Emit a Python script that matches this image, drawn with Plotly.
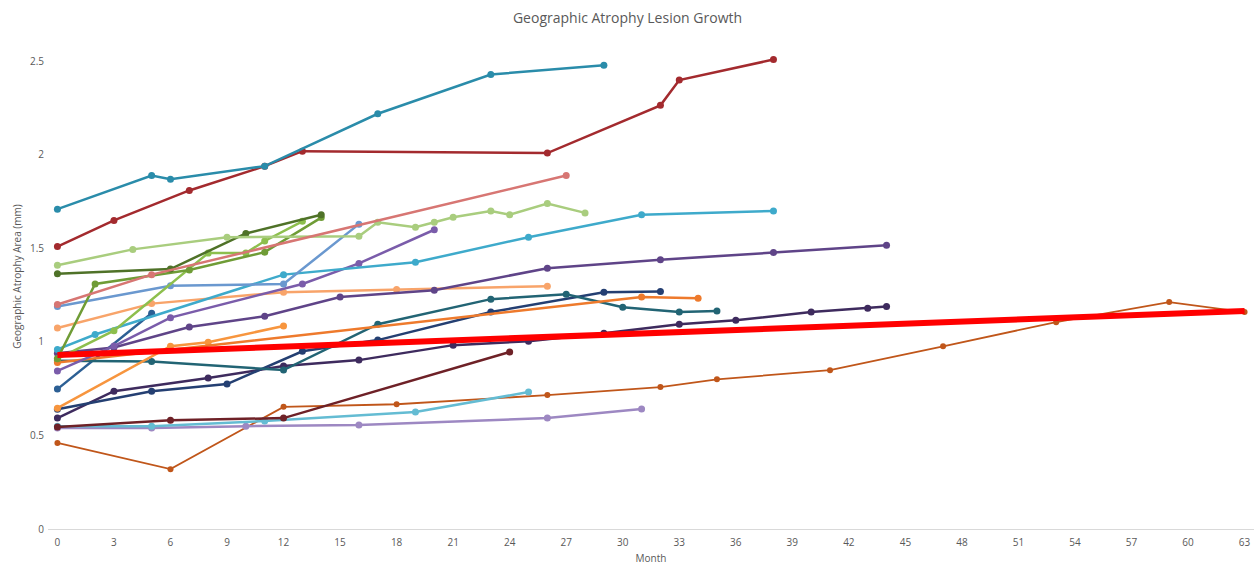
import plotly.graph_objects as go

# ---- data (months, area mm) ----
teal_x = [0, 5, 6, 11, 17, 23, 29]
teal_y = [1.71, 1.89, 1.87, 1.94, 2.22, 2.43, 2.48]

darkred_x = [0, 3, 7, 11, 13, 26, 32, 33, 38]
darkred_y = [1.51, 1.65, 1.81, 1.94, 2.02, 2.01, 2.265, 2.40, 2.51]

pink_x = [0, 5, 27]
pink_y = [1.20, 1.36, 1.89]

lightgreen_x = [0, 4, 9, 16, 17, 19, 20, 21, 23, 24, 26, 28]
lightgreen_y = [1.41, 1.495, 1.56, 1.565, 1.64, 1.613, 1.64, 1.667, 1.70, 1.68, 1.74, 1.69]

darkgreen_x = [0, 6, 10, 14]
darkgreen_y = [1.365, 1.39, 1.58, 1.68]

olive_x = [0, 2, 7, 11, 14]
olive_y = [0.91, 1.31, 1.385, 1.48, 1.665]

brightgreen_x = [0, 3, 8, 10, 11, 13]
brightgreen_y = [0.91, 1.06, 1.475, 1.475, 1.54, 1.645]

medblue_x = [0, 6, 12, 16]
medblue_y = [1.19, 1.30, 1.31, 1.63]

cyan_x = [0, 2, 12, 19, 25, 31, 38]
cyan_y = [0.96, 1.04, 1.36, 1.426, 1.56, 1.68, 1.70]

purple_x = [0, 3, 6, 13, 16, 20]
purple_y = [0.845, 0.978, 1.13, 1.31, 1.42, 1.60]

darkpurple_x = [0, 3, 7, 11, 15, 20, 26, 32, 38, 44]
darkpurple_y = [0.94, 0.97, 1.08, 1.138, 1.24, 1.277, 1.394, 1.44, 1.478, 1.517]

lightorange_x = [0, 5, 12, 18, 26]
lightorange_y = [1.075, 1.205, 1.266, 1.28, 1.298]

orange_x = [0, 31, 34]
orange_y = [0.89, 1.24, 1.234]

brightorange_x = [0, 6, 8, 12]
brightorange_y = [0.646, 0.977, 0.999, 1.085]

darkteal_x = [0, 5, 12, 17, 23, 27, 30, 33, 35]
darkteal_y = [0.90, 0.895, 0.85, 1.095, 1.229, 1.255, 1.186, 1.16, 1.165]

navy_x = [0, 5, 9, 13, 17, 23, 29, 32]
navy_y = [0.64, 0.737, 0.775, 0.95, 1.01, 1.16, 1.266, 1.27]

blue_x = [0, 5]
blue_y = [0.748, 1.154]

indigo_x = [0, 3, 8, 12, 16, 21, 25, 29, 33, 36, 40, 43, 44]
indigo_y = [0.593, 0.737, 0.807, 0.871, 0.903, 0.983, 1.004, 1.047, 1.095, 1.116, 1.16, 1.18, 1.19]

maroon_x = [0, 6, 12, 24]
maroon_y = [0.545, 0.582, 0.593, 0.946]

brown_x = [0, 6, 12, 18, 26, 32, 35, 41, 47, 53, 59, 63]
brown_y = [0.46, 0.32, 0.653, 0.667, 0.716, 0.759, 0.80, 0.849, 0.977, 1.106, 1.213, 1.16]

lightcyan_x = [0, 5, 11, 19, 25]
lightcyan_y = [0.55, 0.55, 0.577, 0.625, 0.732]

lavender_x = [0, 5, 10, 16, 26, 31]
lavender_y = [0.54, 0.54, 0.55, 0.556, 0.593, 0.641]

trend_x = [0, 63]
trend_y = [0.93, 1.165]

x_ticks = list(range(0, 64, 3))
y_ticks = [0, 0.5, 1, 1.5, 2, 2.5]
y_tick_labels = ["0", "0.5", "1", "1.5", "2", "2.5"]

# ---- styling ----
series = [
    (brown_x, brown_y, "#C0561A", 1.8, 6),
    (lavender_x, lavender_y, "#9D88C2", 2.5, 7),
    (lightcyan_x, lightcyan_y, "#64BCD3", 2.5, 7),
    (maroon_x, maroon_y, "#6E2127", 2.5, 7),
    (indigo_x, indigo_y, "#3E2B5E", 2.5, 7),
    (blue_x, blue_y, "#2C5F94", 2.5, 7),
    (navy_x, navy_y, "#243F72", 2.5, 7),
    (darkteal_x, darkteal_y, "#226474", 2.5, 7),
    (brightorange_x, brightorange_y, "#F7953E", 2.5, 7),
    (orange_x, orange_y, "#EE7A2C", 2.5, 7),
    (lightorange_x, lightorange_y, "#F8A46A", 2.5, 7),
    (darkpurple_x, darkpurple_y, "#5F4488", 2.5, 7),
    (purple_x, purple_y, "#7A5CAA", 2.5, 7),
    (cyan_x, cyan_y, "#3EAACB", 2.5, 7),
    (medblue_x, medblue_y, "#6A98CF", 2.5, 7),
    (brightgreen_x, brightgreen_y, "#8DBF4D", 2.5, 7),
    (olive_x, olive_y, "#6F9C36", 2.5, 7),
    (darkgreen_x, darkgreen_y, "#4F7228", 2.5, 7),
    (lightgreen_x, lightgreen_y, "#A9CD7E", 2.5, 7),
    (pink_x, pink_y, "#D77673", 2.5, 7),
    (darkred_x, darkred_y, "#A32A2E", 2.5, 7),
    (teal_x, teal_y, "#2A8CAA", 2.5, 7),
]

fig = go.Figure()
for xs, ys, col, lw, ms in series:
    fig.add_trace(go.Scatter(
        x=xs, y=ys, mode="lines+markers",
        line=dict(color=col, width=lw),
        marker=dict(color=col, size=ms),
        showlegend=False, hoverinfo="skip",
    ))

fig.add_trace(go.Scatter(
    x=trend_x, y=trend_y, mode="lines",
    line=dict(color="#FF0000", width=6),
    showlegend=False, hoverinfo="skip",
))

font_family = "Open Sans, Liberation Sans, sans-serif"
fig.update_layout(
    width=1255, height=567,
    margin=dict(l=48, r=1, t=24, b=38),
    paper_bgcolor="white", plot_bgcolor="white",
    title=dict(text="Geographic Atrophy Lesion Growth", x=0.5, xanchor="center",
               y=0.968, yanchor="middle",
               font=dict(family=font_family, size=14, color="#595959")),
    font=dict(family=font_family, color="#595959"),
    xaxis=dict(range=[-0.5, 63.5], tickvals=x_ticks, showgrid=False, zeroline=False,
               showline=True, linecolor="#D9D9D9", linewidth=1, ticks="",
               ticklabelstandoff=4,
               tickfont=dict(size=10, color="#595959"),
               title=dict(text="Month", font=dict(size=10, color="#595959"), standoff=6),
               automargin=False),
    yaxis=dict(range=[0, 2.7], tickvals=y_ticks, ticktext=y_tick_labels,
               showgrid=False, zeroline=False, showline=False, ticks="",
               ticklabelstandoff=3,
               tickfont=dict(size=10, color="#595959"),
               title=dict(text="Geographic Atrophy Area (mm)", font=dict(size=10, color="#595959"), standoff=6),
               automargin=False),
)

fig.write_html("out.html", config={"displayModeBar": False},
               post_script="document.body.style.margin='0';document.body.style.overflow='hidden';")
